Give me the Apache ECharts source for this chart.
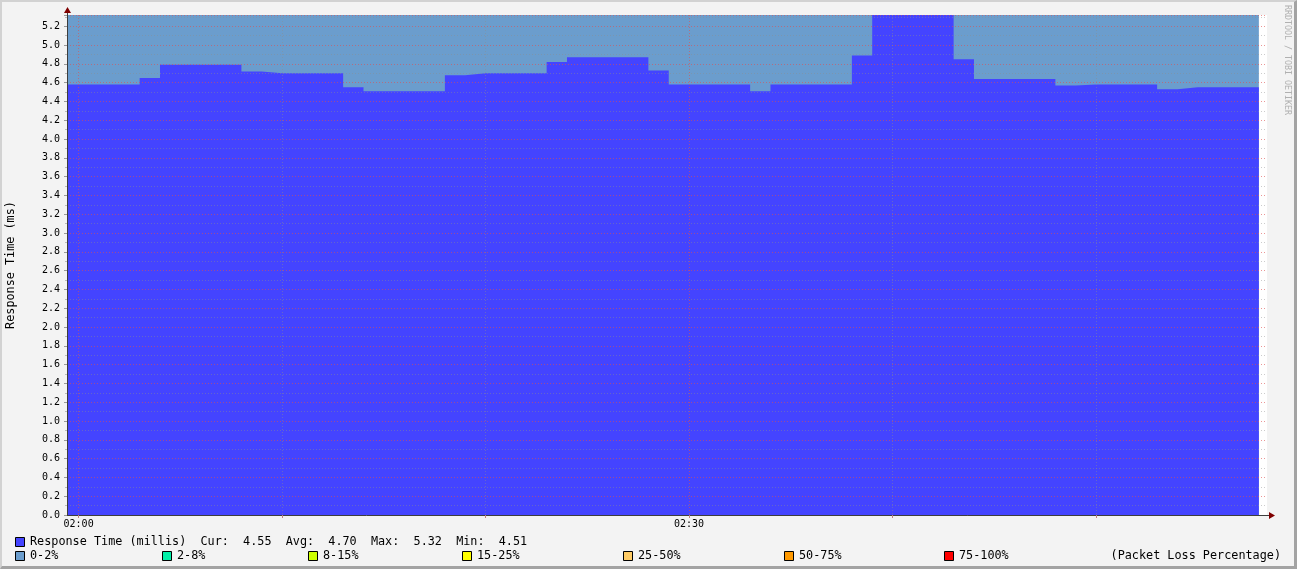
<!DOCTYPE html>
<html>
<head>
<meta charset="utf-8">
<script src="https://cdn.jsdelivr.net/npm/echarts@6/dist/echarts.min.js"></script>
<style>
  html, body { margin:0; padding:0; background:#f3f3f3; }
  #wrap { position:relative; width:1297px; height:569px; }
  #chart { position:absolute; left:0; top:0; width:1297px; height:569px; }
  #frame { position:absolute; left:0; top:0; width:1297px; height:569px; box-sizing:border-box;
           border-top:2px solid #d2d2d2; border-left:2px solid #d2d2d2;
           border-right:3px solid #a3a3a3; border-bottom:3px solid #a3a3a3; pointer-events:none; }
</style>
</head>
<body>
<div id="wrap"><div id="chart"></div><div id="frame"></div></div>
<script>
// minutes relative to 02:00; each value holds from its minute to the next
const minutes = [-1,0,1,2,3,4,5,6,7,8,9,10,11,12,13,14,15,16,17,18,19,20,21,22,23,24,25,26,27,28,29,
  30,31,32,33,34,35,36,37,38,39,40,41,42,43,44,45,46,47,48,49,50,51,52,53,54,55,56,57,58];
const responseMs = [4.58,4.58,4.58,4.58,4.65,4.79,4.79,4.79,4.79,4.72,4.70,4.70,4.70,4.70,4.55,
  4.51,4.51,4.51,4.51,4.68,4.70,4.70,4.70,4.70,4.82,4.87,4.87,4.87,4.87,4.73,
  4.58,4.58,4.58,4.58,4.51,4.58,4.58,4.58,4.58,4.89,5.32,5.32,5.32,5.32,4.85,
  4.64,4.64,4.64,4.64,4.57,4.58,4.58,4.58,4.58,4.53,4.55,4.55,4.55,4.55,4.55];
// packet loss band (0-2% loss), drawn to the top of the graph
const lossBand0to2 = [5.32,5.32,5.32,5.32,5.32,5.32,5.32,5.32,5.32,5.32,5.32,5.32,5.32,5.32,5.32,
  5.32,5.32,5.32,5.32,5.32,5.32,5.32,5.32,5.32,5.32,5.32,5.32,5.32,5.32,5.32,
  5.32,5.32,5.32,5.32,5.32,5.32,5.32,5.32,5.32,5.32,5.32,5.32,5.32,5.32,5.32,
  5.32,5.32,5.32,5.32,5.32,5.32,5.32,5.32,5.32,5.32,5.32,5.32,5.32,5.32,5.32];
const xTickMinutes = [0,10,20,30,40,50];
const xLabelMinutes = [0,30];
const xLabelText = {0:'02:00', 30:'02:30'};
const xMin = -0.57, xMax = 58.4;
const yMin = 0, yMax = 5.32, yStep = 0.2;
const lossLegend = [
  {name:'0-2%', color:'#6b9dcd'},
  {name:'2-8%', color:'#00f0a8'},
  {name:'8-15%', color:'#ccff00'},
  {name:'15-25%', color:'#ffff00'},
  {name:'25-50%', color:'#ffcc66'},
  {name:'50-75%', color:'#ff9900'},
  {name:'75-100%', color:'#ff0000'}
];
const stats = {cur:'4.55', avg:'4.70', max:'5.32', min:'4.51'};

const MONO = '"DejaVu Sans Mono", "Liberation Mono", monospace';
const chart = echarts.init(document.getElementById('chart'), null, {renderer:'canvas'});

const zip = (xs, ys) => xs.map((x, i) => [x, ys[i]]);

const legendX = [15, 162, 308, 462, 623, 784, 944];
const graphics = [];
graphics.push({type:'rect', shape:{x:15.5, y:537.5, width:9, height:9},
  style:{fill:'#4444ff', stroke:'#000', lineWidth:1}});
graphics.push({type:'text', x:30, y:542, style:{
  text:'Response Time (millis)  Cur:  ' + stats.cur + '  Avg:  ' + stats.avg + '  Max:  ' + stats.max + '  Min:  ' + stats.min,
  font:'11.8px ' + MONO, fill:'#000', verticalAlign:'middle', align:'left'}});
lossLegend.forEach((l, i) => {
  graphics.push({type:'rect', shape:{x:legendX[i] + 0.5, y:551.5, width:9, height:9},
    style:{fill:l.color, stroke:'#000', lineWidth:1}});
  graphics.push({type:'text', x:legendX[i] + 15, y:556, style:{
    text:l.name, font:'11.8px ' + MONO, fill:'#000', verticalAlign:'middle', align:'left'}});
});
graphics.push({type:'text', x:1281, y:556, style:{
  text:'(Packet Loss Percentage)', font:'11.8px ' + MONO, fill:'#000', verticalAlign:'middle', align:'right'}});
graphics.push({type:'text', x:1287, y:5, rotation:-Math.PI/2, style:{
  text:'RRDTOOL / TOBI OETIKER', font:'8.3px ' + MONO, fill:'#b0b0b0', verticalAlign:'middle', align:'left'}});

const option = {
  animation:false,
  backgroundColor:'#f3f3f3',
  grid:{left:67, top:15, right:30, bottom:54, show:true, backgroundColor:'#ffffff', borderWidth:0,
    containLabel:false, outerBoundsMode:'none'},
  xAxis:{
    type:'value', min:xMin, max:xMax, z:5,
    axisLine:{show:true, onZero:false, lineStyle:{color:'#3d3d3d', width:1}},
    axisTick:{show:true, customValues:xTickMinutes, length:3, lineStyle:{color:'#c08080'}},
    axisLabel:{customValues:xLabelMinutes, margin:4, fontFamily:MONO, fontSize:10, color:'#000',
      formatter:v => xLabelText[Math.round(v)] || ''},
    splitLine:{show:true, lineStyle:{color:['rgba(222,80,80,0.6)','rgba(143,143,143,0.45)','rgba(143,143,143,0.45)'], type:[1,2], width:1}}
  },
  yAxis:{
    type:'value', min:yMin, max:yMax, interval:yStep, z:5,
    name:'Response Time (ms)', nameLocation:'middle', nameGap:50, nameRotate:90, nameMoveOverlap:false,
    nameTextStyle:{fontFamily:MONO, fontSize:11.8, color:'#000'},
    axisLine:{show:true, onZero:false, lineStyle:{color:'#3d3d3d', width:1}},
    axisTick:{show:true, length:3, lineStyle:{color:'#999'}},
    minorTick:{show:true, splitNumber:2, length:2, lineStyle:{color:'#bbb'}},
    axisLabel:{margin:7, fontFamily:MONO, fontSize:10, color:'#000', showMaxLabel:false,
      formatter:v => (Math.abs(v / yStep - Math.round(v / yStep)) < 1e-6) ? v.toFixed(1) : ''},
    splitLine:{show:true, lineStyle:{color:'rgba(222,80,80,0.6)', type:[1,2], width:1}},
    minorSplitLine:{show:true, lineStyle:{color:'rgba(143,143,143,0.45)', type:[1,2], width:1}}
  },
  series:[
    {name:'0-2%', type:'line', step:'end', data:zip(minutes, lossBand0to2), showSymbol:false, z:1,
      lineStyle:{width:0}, areaStyle:{color:'#6b9dcd', opacity:1}, silent:true},
    {name:'Response Time (millis)', type:'line', step:'end', data:zip(minutes, responseMs), showSymbol:false, z:2,
      lineStyle:{width:0}, areaStyle:{color:'#4444ff', opacity:1}, silent:true}
  ],
  graphic:graphics
};
chart.setOption(option);

// axis arrows (placed from the axis scale)
const pBR = chart.convertToPixel({gridIndex:0}, [xMax, yMin]);
const pTL = chart.convertToPixel({gridIndex:0}, [xMin, yMax]);
const ax = Math.round(pTL[0]) + 0.5, ay = Math.round(pBR[1]) + 0.5;
chart.setOption({graphic: graphics.concat([
  {type:'line', shape:{x1:pBR[0], y1:ay, x2:pBR[0] + 4, y2:ay}, style:{stroke:'#3d3d3d', lineWidth:1}},
  {type:'polygon', shape:{points:[[pBR[0] + 2, ay - 3.5], [pBR[0] + 8, ay], [pBR[0] + 2, ay + 3.5]]}, style:{fill:'#7f0000'}},
  {type:'line', shape:{x1:ax, y1:pTL[1], x2:ax, y2:pTL[1] - 4}, style:{stroke:'#3d3d3d', lineWidth:1}},
  {type:'polygon', shape:{points:[[ax - 3.5, pTL[1] - 2], [ax, pTL[1] - 8], [ax + 3.5, pTL[1] - 2]]}, style:{fill:'#7f0000'}}
])});
</script>
</body>
</html>
